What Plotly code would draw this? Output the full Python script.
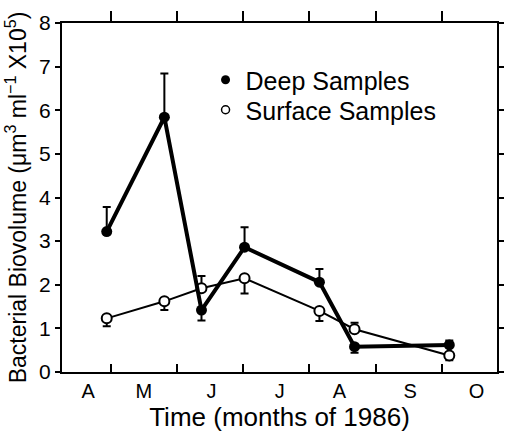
import plotly.graph_objects as go

# x positions in months since 1 April 1986 (1 = 1 May, 2 = 1 Jun, ...)
sample_x = [0.94, 1.81, 2.37, 3.02, 4.15, 4.68, 6.11]

deep_y = [3.22, 5.84, 1.42, 2.86, 2.06, 0.58, 0.62]
deep_err_up = [0.56, 1.00, 0.0, 0.46, 0.30, 0.0, 0.10]
deep_err_down = [0.0, 0.0, 0.24, 0.0, 0.0, 0.14, 0.0]

surface_y = [1.23, 1.62, 1.92, 2.15, 1.40, 0.98, 0.38]
surface_err_up = [0.0, 0.0, 0.28, 0.0, 0.0, 0.15, 0.0]
surface_err_down = [0.18, 0.20, 0.0, 0.35, 0.23, 0.0, 0.11]

month_boundaries = [1, 2, 3, 4, 5, 6]
month_label_pos = [0.66, 1.5, 2.52, 3.55, 4.45, 5.52, 6.52]
month_labels = ["A", "M", "J", "J", "A", "S", "O"]

y_ticks = [0, 1, 2, 3, 4, 5, 6, 7, 8]

FONT = "Liberation Sans, Arial, Helvetica, sans-serif"

fig = go.Figure()

fig.add_trace(go.Scatter(
    x=sample_x, y=surface_y, mode="lines+markers", name="Surface Samples",
    showlegend=False,
    line=dict(color="black", width=2),
    marker=dict(symbol="circle", size=10, color="white",
                line=dict(color="black", width=2)),
    error_y=dict(type="data", symmetric=False, array=surface_err_up,
                 arrayminus=surface_err_down, color="black", thickness=2, width=4),
))

fig.add_trace(go.Scatter(
    x=sample_x, y=deep_y, mode="lines+markers", name="Deep Samples",
    showlegend=False,
    line=dict(color="black", width=4),
    marker=dict(symbol="circle", size=11, color="black"),
    error_y=dict(type="data", symmetric=False, array=deep_err_up,
                 arrayminus=deep_err_down, color="black", thickness=2, width=4),
))

# legend entries (marker only, like the reference key)
fig.add_trace(go.Scatter(
    x=[None], y=[None], mode="markers", name="Deep Samples", legend="legend",
    marker=dict(symbol="circle", size=9, color="black"),
))
fig.add_trace(go.Scatter(
    x=[None], y=[None], mode="markers", name="Surface Samples", legend="legend2",
    marker=dict(symbol="circle", size=8, color="white",
                line=dict(color="black", width=1.5)),
))

# invisible trace to carry the top axis
fig.add_trace(go.Scatter(x=[3], y=[4], xaxis="x2", mode="markers",
                         marker=dict(opacity=0), showlegend=False, hoverinfo="skip"))

legend_common = dict(xanchor="left", yanchor="middle",
                     font=dict(size=25, family=FONT), bgcolor="rgba(0,0,0,0)",
                     itemwidth=30)

fig.update_layout(
    width=509, height=432,
    margin=dict(l=62, r=5, t=23, b=60),
    paper_bgcolor="white", plot_bgcolor="white",
    font=dict(family=FONT, color="black"),
    showlegend=True,
    legend=dict(x=0.33, y=(372 - 80) / 349, **legend_common),
    legend2=dict(x=0.33, y=(372 - 110) / 349, **legend_common),
    xaxis=dict(
        range=[0.265, 6.83], showgrid=False, zeroline=False,
        showline=True, linecolor="black", linewidth=2,
        tickmode="array", tickvals=month_label_pos, ticktext=month_labels,
        ticks="", tickfont=dict(size=20), ticklabelstandoff=0,
        minor=dict(tickmode="array", tickvals=month_boundaries, ticks="inside",
                   ticklen=8, tickwidth=2, tickcolor="black", showgrid=False),
        title=dict(text="Time (months of 1986)", font=dict(size=26), standoff=2),
    ),
    xaxis2=dict(
        overlaying="x", side="top", matches="x", anchor="y",
        range=[0.265, 6.83], showgrid=False, zeroline=False,
        showline=True, linecolor="black", linewidth=2,
        tickmode="array", tickvals=month_boundaries, ticks="outside",
        ticklen=10, tickwidth=2, tickcolor="black", showticklabels=False,
    ),
    yaxis=dict(
        range=[0, 8], showgrid=False, zeroline=False,
        showline=True, linecolor="black", linewidth=2, mirror="ticks",
        tickmode="array", tickvals=y_ticks, ticks="outside",
        ticklen=5, tickwidth=2, tickcolor="black", tickfont=dict(size=21),
        ticklabelstandoff=0,
        title=dict(text="Bacterial Biovolume (\u03bcm<sup>3</sup> ml<sup>\u22121</sup> X10<sup>5</sup>)",
                   font=dict(size=23), standoff=6),
    ),
)

fig.write_html("out.html")
